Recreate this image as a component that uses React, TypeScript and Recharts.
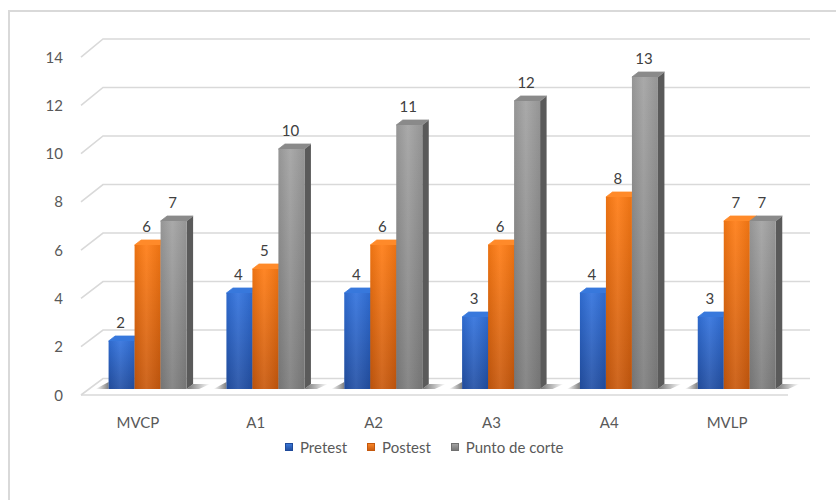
import React from 'react';
import { BarChart, Bar, XAxis, YAxis, CartesianGrid, Legend, LabelList } from 'recharts';

// Chart data
const categories = ['MVCP', 'A1', 'A2', 'A3', 'A4', 'MVLP'];
const pretest = [2, 4, 4, 3, 4, 3];
const postest = [6, 5, 6, 6, 8, 7];
const puntoDeCorte = [7, 10, 11, 12, 13, 7];
const yTicks = [0, 2, 4, 6, 8, 10, 12, 14];
const seriesNames = ['Pretest', 'Postest', 'Punto de corte'];

const data = categories.map((name, i) => ({
  name,
  pretest: pretest[i],
  postest: postest[i],
  corte: puntoDeCorte[i],
}));

// Layout
const W = 836;
const H = 500;
const PLOT_TOP = 53;
const PLOT_BOTTOM = 389;
const PX_PER_UNIT = (PLOT_BOTTOM - PLOT_TOP) / 14;
const DX = 6.5; // depth of each bar (x)
const DY = 5; // depth of each bar (y)
const FONT = 'Lato, "Open Sans", "Noto Sans", sans-serif';
const AXIS_TEXT = '#595959';
const GRID = '#d9d9d9';

type Palette = { id: string; top: string; side: string; legend: [string, string] };
const palettes: Record<string, Palette> = {
  pretest: { id: 'pre', top: '#3878dc', side: '#1c418a', legend: ['#3d7ddf', '#1f4a9a'] },
  postest: { id: 'post', top: '#ff8a2a', side: '#a9480a', legend: ['#ff8a2a', '#c4580d'] },
  corte: { id: 'cut', top: '#8a8a8a', side: '#5a5a5a', legend: ['#a8a8a8', '#707070'] },
};

// Perspective helpers: bar plane -> back wall / front edge
const valueAt = (y: number) => (PLOT_BOTTOM - y) / PX_PER_UNIT;
const backY = (y: number) => y - 10.5 - 0.25 * valueAt(y);
const frontY = (y: number) => y + 6 - 0.14 * valueAt(y);

function GridLine(p: any) {
  const y = p.y1;
  const bY = backY(y);
  const fY = frontY(y);
  const bx1 = p.x1 + 15;
  const bx2 = p.x2 + 15;
  const fx1 = p.x1 - 7;
  const fx2 = p.x2 - 7;
  if (Math.round(valueAt(y)) === 0) {
    return (
      <g key={`grid-${p.index}`}>
        <path d={`M${fx1},${fY} L${bx1},${bY} L${bx2},${bY}`} stroke={GRID} strokeWidth={1.6} fill="none" />
        <line x1={fx1} y1={fY} x2={fx2} y2={fY} stroke={GRID} strokeWidth={1.6} />
      </g>
    );
  }
  return (
    <path
      key={`grid-${p.index}`}
      d={`M${fx1},${fY} L${bx1},${bY} L${bx2},${bY}`}
      stroke={GRID}
      strokeWidth={1.6}
      fill="none"
    />
  );
}

function Bar3D(props: any) {
  const { x, y, width, height, paletteKey, shadow } = props;
  if (height == null || width == null) return null;
  const pal = palettes[paletteKey];
  const bottom = y + height;
  const right = x + width;
  return (
    <g>
      {shadow === 'left' && (
        <polygon points={`${x - 13},${bottom} ${x},${bottom - 7} ${x},${bottom}`} fill="url(#shadowL)" />
      )}
      {shadow === 'right' && (
        <polygon
          points={`${right},${bottom} ${right + DX},${bottom - DY} ${right + DX + 17},${bottom - DY} ${right + DX + 6},${bottom}`}
          fill="url(#shadowR)"
        />
      )}
      <polygon
        points={`${right},${y} ${right + DX},${y - DY} ${right + DX},${bottom - DY} ${right},${bottom}`}
        fill={pal.side}
      />
      <polygon
        points={`${x},${y} ${x + DX},${y - DY} ${right + DX},${y - DY} ${right},${y}`}
        fill={pal.top}
        stroke={pal.top}
        strokeWidth={0.8}
        strokeLinejoin="round"
      />
      <rect x={x} y={y} width={width} height={height} fill={`url(#front-${pal.id})`} />
      <rect x={x} y={y} width={width} height={height} fill="url(#sheen)" />
    </g>
  );
}

function ValueLabel(p: any) {
  const { x, y, width, value } = p;
  return (
    <text
      x={x + width / 2 - 1}
      y={y - 13}
      textAnchor="middle"
      fontFamily={FONT}
      fontSize={15}
      fill="#404040"
    >
      {value}
    </text>
  );
}

function YTick(p: any) {
  const { payload } = p;
  return (
    <text
      x={63}
      y={frontY(payload.coordinate) + 5.5}
      textAnchor="end"
      fontFamily={FONT}
      fontSize={15}
      fill={AXIS_TEXT}
    >
      {payload.value}
    </text>
  );
}

function XTick(p: any) {
  const { payload } = p;
  return (
    <text
      x={payload.coordinate - 9}
      y={PLOT_BOTTOM + 39}
      textAnchor="middle"
      fontFamily={FONT}
      fontSize={15}
      fill={AXIS_TEXT}
    >
      {payload.value}
    </text>
  );
}

function LegendContent() {
  const keys = ['pretest', 'postest', 'corte'];
  return (
    <div style={{ display: 'flex', alignItems: 'center', fontFamily: FONT, fontSize: 15, color: AXIS_TEXT, lineHeight: '18px' }}>
      {keys.map((k, i) => (
        <div key={k} style={{ display: 'flex', alignItems: 'center', marginRight: i < keys.length - 1 ? 20 : 0 }}>
          <span
            style={{
              display: 'inline-block',
              width: 8,
              height: 8,
              marginRight: 7,
              background: `linear-gradient(${palettes[k].legend[0]}, ${palettes[k].legend[1]})`,
              boxShadow: `inset 0 0 0 1px ${palettes[k].legend[1]}`,
            }}
          />
          <span>{seriesNames[i]}</span>
        </div>
      ))}
    </div>
  );
}

export default function App() {
  return (
    <div style={{ position: 'fixed', left: 0, top: 0, width: W, height: H, background: '#fff' }}>
      <div
        style={{
          position: 'absolute',
          left: 8,
          top: 10,
          right: 0,
          bottom: 0,
          borderLeft: '2px solid #d9d9d9',
          borderTop: '2px solid #d9d9d9',
        }}
      />
      <BarChart
        width={W}
        height={H}
        data={data}
        margin={{ top: PLOT_TOP, right: 41, bottom: H - PLOT_BOTTOM - 30, left: 48 }}
        barCategoryGap={20.6}
        barGap={0}
        style={{ position: 'absolute', left: 0, top: 0 }}
      >
        <defs>
          <linearGradient id="front-pre" x1="0" y1="0" x2="0" y2="1">
            <stop offset="0" stopColor="#3272dd" />
            <stop offset="1" stopColor="#2350a5" />
          </linearGradient>
          <linearGradient id="front-post" x1="0" y1="0" x2="0" y2="1">
            <stop offset="0" stopColor="#ff7c14" />
            <stop offset="1" stopColor="#c9590d" />
          </linearGradient>
          <linearGradient id="front-cut" x1="0" y1="0" x2="0" y2="1">
            <stop offset="0" stopColor="#a2a2a2" />
            <stop offset="1" stopColor="#7e7e7e" />
          </linearGradient>
          <linearGradient id="sheen" x1="0" y1="0" x2="1" y2="0">
            <stop offset="0" stopColor="#000" stopOpacity={0.08} />
            <stop offset="0.45" stopColor="#fff" stopOpacity={0.08} />
            <stop offset="1" stopColor="#000" stopOpacity={0.08} />
          </linearGradient>
          <linearGradient id="shadowL" x1="0" y1="0" x2="1" y2="0">
            <stop offset="0" stopColor="#000" stopOpacity={0} />
            <stop offset="1" stopColor="#000" stopOpacity={0.5} />
          </linearGradient>
          <linearGradient id="shadowR" x1="0" y1="0" x2="1" y2="0">
            <stop offset="0" stopColor="#000" stopOpacity={0.55} />
            <stop offset="1" stopColor="#000" stopOpacity={0} />
          </linearGradient>
        </defs>
        <CartesianGrid vertical={false} horizontal={GridLine as any} />
        <XAxis dataKey="name" axisLine={false} tickLine={false} tick={<XTick />} interval={0} />
        <YAxis
          domain={[0, 14]}
          ticks={yTicks}
          width={40}
          axisLine={false}
          tickLine={false}
          tick={<YTick />}
          interval={0}
        />
        <Legend
          layout="horizontal"
          verticalAlign="middle"
          align="center"
          content={<LegendContent />}
          wrapperStyle={{ top: 438, left: 285, width: 'auto', height: 18 }}
        />
        <Bar
          dataKey="pretest"
          name={seriesNames[0]}
          isAnimationActive={false}
          shape={(p: any) => <Bar3D {...p} paletteKey="pretest" shadow="left" />}
        >
          <LabelList dataKey="pretest" content={<ValueLabel />} />
        </Bar>
        <Bar
          dataKey="postest"
          name={seriesNames[1]}
          isAnimationActive={false}
          shape={(p: any) => <Bar3D {...p} paletteKey="postest" />}
        >
          <LabelList dataKey="postest" content={<ValueLabel />} />
        </Bar>
        <Bar
          dataKey="corte"
          name={seriesNames[2]}
          isAnimationActive={false}
          shape={(p: any) => <Bar3D {...p} paletteKey="corte" shadow="right" />}
        >
          <LabelList dataKey="corte" content={<ValueLabel />} />
        </Bar>
      </BarChart>
    </div>
  );
}
